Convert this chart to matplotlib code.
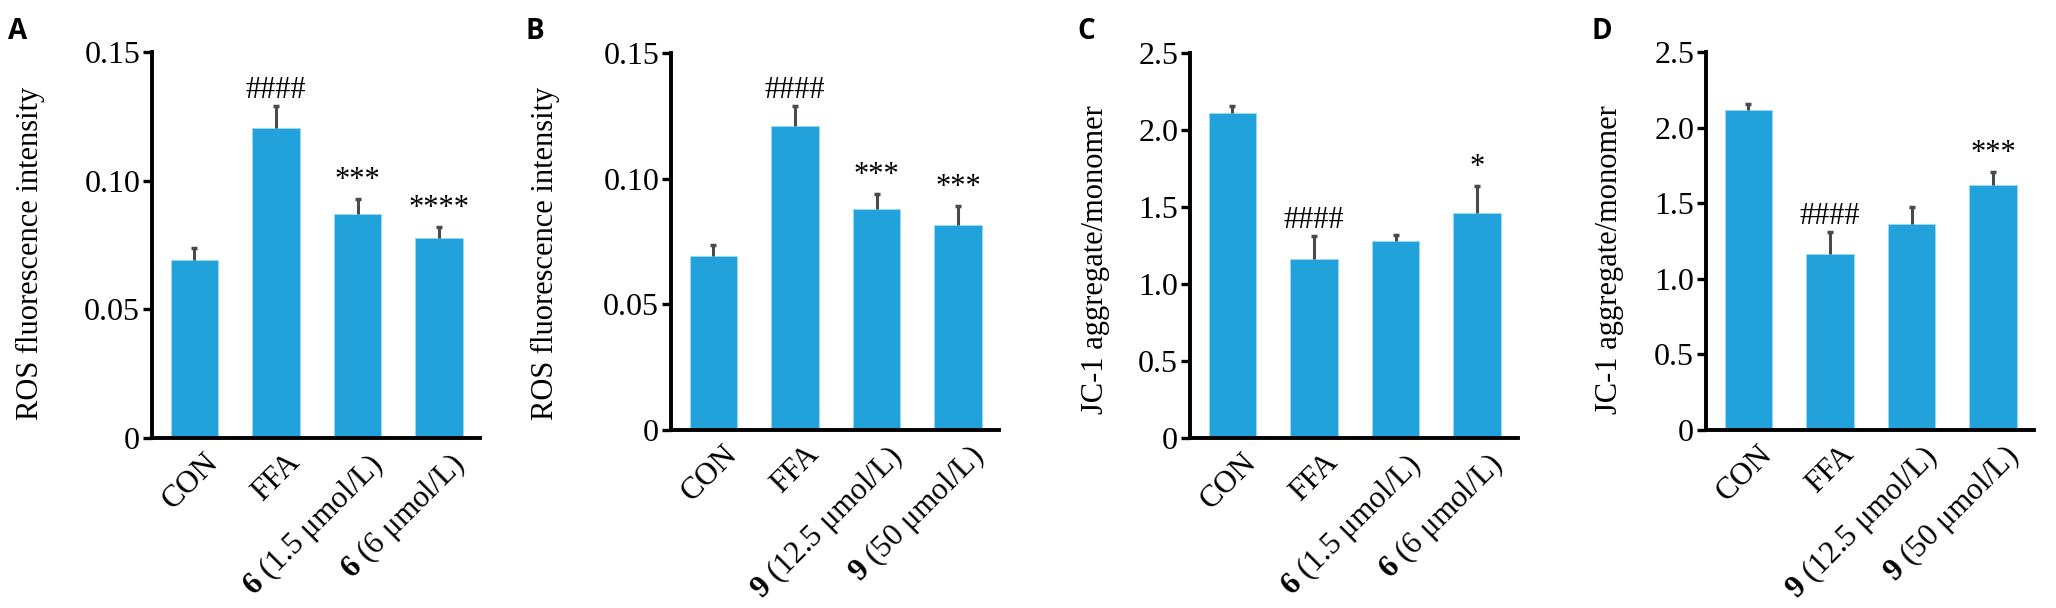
import matplotlib
matplotlib.use('Agg')
import matplotlib.pyplot as plt
import matplotlib.transforms as mtransforms
import numpy as np

plt.rcParams['font.family'] = ['Liberation Serif', 'DejaVu Serif']
plt.rcParams['mathtext.fontset'] = 'custom'
plt.rcParams['mathtext.rm'] = 'Liberation Serif'
plt.rcParams['mathtext.bf'] = 'Liberation Serif:bold'

# data
labels_6 = ['CON', 'FFA', r'$\mathbf{6}$ (1.5 μmol/L)', r'$\mathbf{6}$ (6 μmol/L)']
labels_9 = ['CON', 'FFA', r'$\mathbf{9}$ (12.5 μmol/L)', r'$\mathbf{9}$ (50 μmol/L)']

ros_6 = [0.0692, 0.1205, 0.0870, 0.0777]
ros_6_err = [0.0045, 0.0084, 0.0060, 0.0042]
ros_6_marks = ['', '####', '***', '****']

ros_9 = [0.0692, 0.1208, 0.0881, 0.0815]
ros_9_err = [0.0043, 0.0080, 0.0058, 0.0077]
ros_9_marks = ['', '####', '***', '***']

jc1_6 = [2.113, 1.165, 1.278, 1.459]
jc1_6_err = [0.043, 0.146, 0.038, 0.178]
jc1_6_marks = ['', '####', '', '*']

jc1_9 = [2.115, 1.162, 1.362, 1.623]
jc1_9_err = [0.039, 0.146, 0.115, 0.082]
jc1_9_marks = ['', '####', '', '***']

ros_ticks = [0, 0.05, 0.10, 0.15]
ros_ticklabels = ['0', '0.05', '0.10', '0.15']
jc1_ticks = [0, 0.5, 1.0, 1.5, 2.0, 2.5]
jc1_ticklabels = ['0', '0.5', '1.0', '1.5', '2.0', '2.5']

BAR = '#21a2db'
ERR = '#4a4a4a'
W, H = 2056, 608

fig = plt.figure(figsize=(W / 100, H / 100), dpi=100)


def panel(box, vals, errs, marks, labels, ylabel, ticks, ticklabels, ylab_xy, letter, letter_x):
    left, top, right, bottom = box
    ax = fig.add_axes([left / W, 1 - bottom / H, (right - left) / W, (bottom - top) / H])
    x = np.arange(len(vals))
    vals = np.array(vals)
    errs = np.array(errs)
    ax.bar(x, vals, width=0.585, color=BAR, edgecolor='#9ad8f3', linewidth=0.6, zorder=2)
    ax.vlines(x, vals, vals + errs, colors=ERR, linewidth=2.2, zorder=3)
    ax.plot(x, vals + errs, ls='none', marker='_', markersize=5, markeredgewidth=2.5, color=ERR, zorder=3)
    for i, m in enumerate(marks):
        if m:
            off = 1 if '#' in m else 3
            ax.annotate(m, (x[i], vals[i] + errs[i]), xytext=(0, off), textcoords='offset points',
                        ha='center', va='bottom', fontsize=22)
    ax.set_xlim(-0.52, 3.5)
    ax.set_ylim(ticks[0], ticks[-1])
    ax.set_yticks(ticks)
    ax.set_yticklabels(ticklabels)
    ax.set_xticks(x)
    ax.set_xticklabels(labels, rotation=45, ha='right', va='top', rotation_mode='anchor', fontsize=22.5)
    ax.tick_params(axis='x', length=0, pad=7)
    ax.tick_params(axis='y', direction='out', length=6.5, width=2.4, labelsize=23, pad=2)
    shift = mtransforms.ScaledTranslation(9 / 100, 0, fig.dpi_scale_trans)
    for lbl in ax.get_xticklabels():
        lbl.set_transform(lbl.get_transform() + shift)
    for s in ['top', 'right']:
        ax.spines[s].set_visible(False)
    for s in ['left', 'bottom']:
        ax.spines[s].set_linewidth(2.8)
    ax.set_ylabel(ylabel, fontsize=22)
    ax.yaxis.set_label_coords(*ylab_xy)
    fig.text(letter_x / W, 1 - 39 / H, letter, fontsize=20, fontweight='bold',
             family='Open Sans', ha='left', va='baseline')
    return ax


panel((152, 52, 480, 438), ros_6, ros_6_err, ros_6_marks, labels_6,
      'ROS fluorescence intensity', ros_ticks, ros_ticklabels, (-0.326, 0.479), 'A', 8)
panel((671, 53, 999, 430), ros_9, ros_9_err, ros_9_marks, labels_9,
      'ROS fluorescence intensity', ros_ticks, ros_ticklabels, (-0.338, 0.468), 'B', 525)
panel((1190, 53, 1518, 438), jc1_6, jc1_6_err, jc1_6_marks, labels_6,
      'JC-1 aggregate/monomer', jc1_ticks, jc1_ticklabels, (-0.244, 0.464), 'C', 1077)
panel((1706, 52, 2034, 430), jc1_9, jc1_9_err, jc1_9_marks, labels_9,
      'JC-1 aggregate/monomer', jc1_ticks, jc1_ticklabels, (-0.25, 0.452), 'D', 1591)

fig.savefig('out.png', dpi=100)
